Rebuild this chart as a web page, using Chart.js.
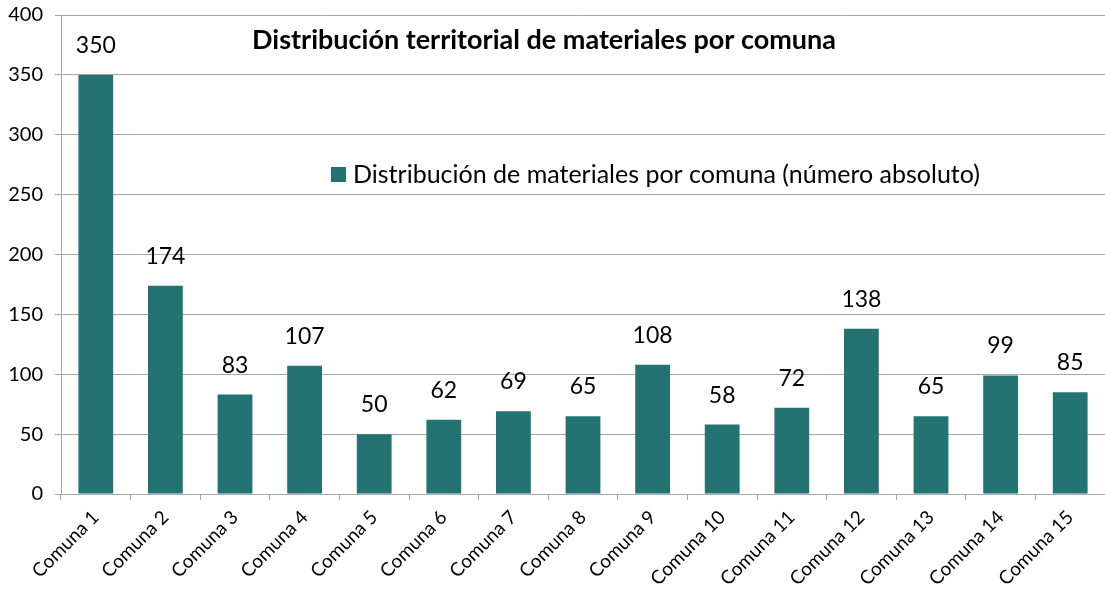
<!DOCTYPE html>
<html>
<head>
<meta charset="utf-8">
<script src="https://cdn.jsdelivr.net/npm/chart.js@4.4.1/dist/chart.umd.min.js"></script>
<style>
  html, body { margin: 0; padding: 0; background: #fff; }
  #wrap { width: 1105px; height: 593px; }
</style>
</head>
<body>
<div id="wrap"><canvas id="grafico"></canvas></div>
<script>
// === Datos ===
const comunas = ["Comuna 1", "Comuna 2", "Comuna 3", "Comuna 4", "Comuna 5", "Comuna 6", "Comuna 7", "Comuna 8",
  "Comuna 9", "Comuna 10", "Comuna 11", "Comuna 12", "Comuna 13", "Comuna 14", "Comuna 15"];
const materiales = [350, 174, 83, 107, 50, 62, 69, 65, 108, 58, 72, 138, 65, 99, 85];
const tituloGrafico = "Distribución territorial de materiales por comuna";
const etiquetaSerie = "Distribución de materiales por comuna (número absoluto)";

const FUENTE = "Lato, 'Open Sans', sans-serif";
const COLOR_BARRA = "#237373";

// Título, leyenda y etiquetas de valor dibujados dentro del área del gráfico
const extras = {
  id: "extras",
  afterDatasetsDraw(chart) {
    const { ctx, chartArea } = chart;
    ctx.save();
    // etiquetas encima de cada barra
    ctx.fillStyle = "#000";
    ctx.font = "23px " + FUENTE;
    ctx.textAlign = "center";
    ctx.textBaseline = "alphabetic";
    chart.getDatasetMeta(0).data.forEach((bar, i) => {
      ctx.fillText(String(materiales[i]), bar.x, bar.y - 22);
    });
    // título
    ctx.font = "bold 27px " + FUENTE;
    ctx.textBaseline = "middle";
    ctx.fillText(tituloGrafico, 544, chartArea.top + 25);
    // leyenda
    ctx.fillStyle = COLOR_BARRA;
    ctx.fillRect(331, chartArea.top + 152, 15, 15);
    ctx.fillStyle = "#000";
    ctx.textAlign = "left";
    ctx.font = "25px " + FUENTE;
    ctx.fillText(etiquetaSerie, 353, chartArea.top + 160);
    ctx.restore();
  }
};

new Chart(document.getElementById("grafico"), {
  type: "bar",
  data: {
    labels: comunas,
    datasets: [{
      label: etiquetaSerie,
      data: materiales,
      backgroundColor: COLOR_BARRA,
      barPercentage: 0.5,
      categoryPercentage: 1.0,
    }],
  },
  options: {
    responsive: true,
    maintainAspectRatio: false,
    animation: false,
    layout: { padding: { top: 15, right: 0, left: 0, bottom: 0 } },
    plugins: {
      legend: { display: false },
      title: { display: false },
      tooltip: { enabled: false },
    },
    scales: {
      x: {
        grid: { drawOnChartArea: false, color: "#a6a6a6", tickLength: 6 },
        border: { color: "#a6a6a6" },
        ticks: {
          color: "#000",
          font: { family: FUENTE, size: 19 },
          maxRotation: 45,
          minRotation: 45,
          padding: 6,
        },
        afterFit(scale) {
          scale.height = 99;
          scale.paddingLeft = 0;
          scale.paddingRight = 0;
          scale.paddingTop = 0;
          scale.paddingBottom = 0;
        },
      },
      y: {
        min: 0,
        max: 400,
        ticks: {
          stepSize: 50,
          color: "#000",
          font: { family: FUENTE, size: 20 },
          padding: 12,
        },
        grid: { color: "#a6a6a6", tickLength: 6 },
        border: { color: "#a6a6a6" },
        afterFit(scale) {
          scale.width = 61;
          scale.paddingTop = 0;
          scale.paddingBottom = 0;
        },
      },
    },
  },
  plugins: [extras],
});
</script>
</body>
</html>
